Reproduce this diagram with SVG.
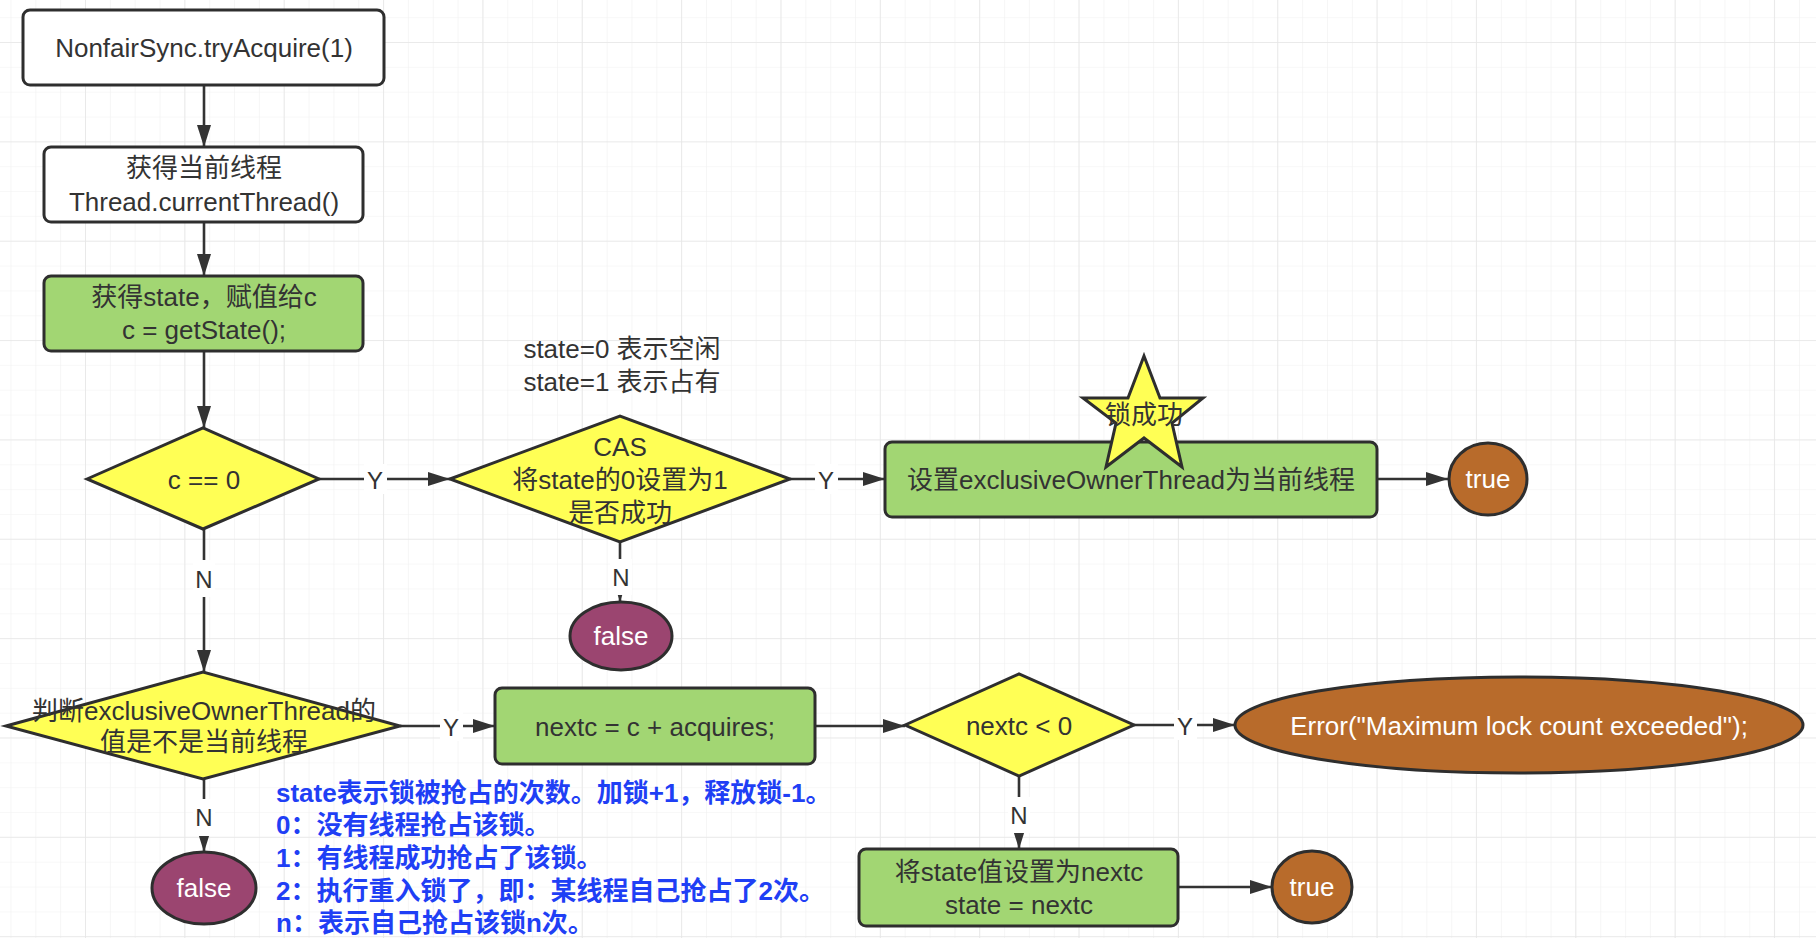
<svg xmlns="http://www.w3.org/2000/svg" width="1816" height="938" viewBox="0 0 1816 938">
<defs>
<pattern id="gMinor" width="24.84" height="24.84" patternUnits="userSpaceOnUse" x="85" y="42">
<path d="M0 0 L24.84 0 M0 0 L0 24.84" stroke="#f1f1f1" stroke-width="1.2" fill="none"/>
</pattern>
<pattern id="gMajor" width="99.35" height="99.35" patternUnits="userSpaceOnUse" x="85" y="42">
<path d="M0 0 L99.35 0 M0 0 L0 99.35" stroke="#e6e6e6" stroke-width="1.6" fill="none"/>
</pattern>
<marker id="arr" markerUnits="userSpaceOnUse" markerWidth="22" markerHeight="14" refX="22" refY="7" orient="auto">
<path d="M0 0 L22 7 L0 14 Z" fill="#333"/>
</marker>
<style>
.t{font-family:"Liberation Sans","Noto Sans CJK SC",sans-serif;font-size:26px;fill:#333;text-anchor:middle;dominant-baseline:central}
.w{fill:#fff}
.lbl{font-family:"Liberation Sans","Noto Sans CJK SC",sans-serif;font-size:24px;fill:#333;text-anchor:middle;dominant-baseline:central}
.note{font-family:"Liberation Sans","Noto Sans CJK SC",sans-serif;font-size:26px;font-weight:bold;fill:#1f3ff5;dominant-baseline:central}
.box{stroke:#2e2e2e;stroke-width:3}
.white{fill:#fff}
.green{fill:#a2d673}
.yellow{fill:#ffff55}
.purple{fill:#9b4570}
.brown{fill:#b86b2b}
.conn{stroke:#333;stroke-width:2.6;fill:none;marker-end:url(#arr)}
.lblbg{fill:#fff}
</style>
</defs>
<rect width="1816" height="938" fill="#fff"/>
<rect width="1816" height="938" fill="url(#gMinor)"/>
<rect width="1816" height="938" fill="url(#gMajor)"/>

<g id="connectors">
<path class="conn" d="M204 85 L204 147"/>
<path class="conn" d="M204 222 L204 276"/>
<path class="conn" d="M204 351 L204 428"/>
<path class="conn" d="M319 479 L450 479"/>
<path class="conn" d="M790 479 L885 479"/>
<path class="conn" d="M1377 479 L1448 479"/>
<path class="conn" d="M620 542 L620 602"/>
<path class="conn" d="M204 529 L204 672"/>
<path class="conn" d="M400 726 L495 726"/>
<path class="conn" d="M815 726 L905 726"/>
<path class="conn" d="M1134 725 L1235 725"/>
<path class="conn" d="M1019 776 L1019 849"/>
<path class="conn" d="M1178 887 L1272 887"/>
<path class="conn" d="M204 779 L204 852"/>
<rect class="lblbg" x="364" y="464" width="23" height="30"/>
<text class="lbl" x="375" y="480">Y</text>
<rect class="lblbg" x="815" y="464" width="23" height="30"/>
<text class="lbl" x="826" y="480">Y</text>
<rect class="lblbg" x="440" y="711" width="23" height="30"/>
<text class="lbl" x="451" y="727">Y</text>
<rect class="lblbg" x="1174" y="710" width="23" height="30"/>
<text class="lbl" x="1185" y="726">Y</text>
<rect class="lblbg" x="193" y="560" width="22" height="37"/>
<text class="lbl" x="204" y="579">N</text>
<rect class="lblbg" x="610" y="559" width="22" height="36"/>
<text class="lbl" x="621" y="577">N</text>
<rect class="lblbg" x="193" y="799" width="22" height="37"/>
<text class="lbl" x="204" y="817">N</text>
<rect class="lblbg" x="1008" y="797" width="22" height="36"/>
<text class="lbl" x="1019" y="815">N</text>
</g>

<g id="n-start">
<rect class="box white" x="23" y="10" width="361" height="75" rx="7"/>
<text class="t" x="204" y="48">NonfairSync.tryAcquire(1)</text>
</g>
<g id="n-thread">
<rect class="box white" x="44" y="147" width="319" height="75" rx="7"/>
<text class="t" x="204" y="168">获得当前线程</text>
<text class="t" x="204" y="202">Thread.currentThread()</text>
</g>
<g id="n-state">
<rect class="box green" x="44" y="276" width="319" height="75" rx="7"/>
<text class="t" x="204" y="297">获得state，赋值给c</text>
<text class="t" x="204" y="330">c = getState();</text>
</g>
<g id="n-c0">
<polygon class="box yellow" points="87,479 203,428 319,479 203,529"/>
<text class="t" x="204" y="480">c == 0</text>
</g>
<g id="n-note-state">
<text class="t" x="622" y="349">state=0 表示空闲</text>
<text class="t" x="622" y="382">state=1 表示占有</text>
</g>
<g id="n-cas">
<polygon class="box yellow" points="450,479 620,416 790,479 620,542"/>
<text class="t" x="620" y="447">CAS</text>
<text class="t" x="620" y="480">将state的0设置为1</text>
<text class="t" x="620" y="513">是否成功</text>
</g>
<g id="n-setowner">
<rect class="box green" x="885" y="442" width="492" height="75" rx="7"/>
<text class="t" x="1131" y="480">设置exclusiveOwnerThread为当前线程</text>
</g>
<g id="n-star">
<polygon class="box yellow" points="1144,356 1160,398 1203,398 1172,423 1182,467 1144,438 1106,467 1116,423 1083,398 1128,398"/>
<text class="t" x="1144" y="415">锁成功</text>
</g>
<g id="n-true1">
<ellipse class="box brown" cx="1488" cy="479" rx="39" ry="36"/>
<text class="t w" x="1488" y="479">true</text>
</g>
<g id="n-false1">
<ellipse class="box purple" cx="621" cy="636" rx="51" ry="34"/>
<text class="t w" x="621" y="636">false</text>
</g>
<g id="n-owner">
<polygon class="box yellow" points="6,726 203,672 400,726 203,779"/>
<text class="t" x="204" y="711">判断exclusiveOwnerThread的</text>
<text class="t" x="204" y="742">值是不是当前线程</text>
</g>
<g id="n-nextc">
<rect class="box green" x="495" y="688" width="320" height="76" rx="7"/>
<text class="t" x="655" y="727">nextc = c + acquires;</text>
</g>
<g id="n-lt0">
<polygon class="box yellow" points="905,725 1019,674 1134,725 1019,776"/>
<text class="t" x="1019" y="726">nextc &lt; 0</text>
</g>
<g id="n-error">
<ellipse class="box brown" cx="1519" cy="725" rx="284" ry="48"/>
<text class="t w" x="1519" y="726">Error("Maximum lock count exceeded");</text>
</g>
<g id="n-setstate">
<rect class="box green" x="859" y="849" width="319" height="77" rx="7"/>
<text class="t" x="1019" y="872">将state值设置为nextc</text>
<text class="t" x="1019" y="905">state = nextc</text>
</g>
<g id="n-true2">
<ellipse class="box brown" cx="1312" cy="887" rx="40" ry="36"/>
<text class="t w" x="1312" y="887">true</text>
</g>
<g id="n-false2">
<ellipse class="box purple" cx="204" cy="888" rx="52" ry="36"/>
<text class="t w" x="204" y="888">false</text>
</g>
<g id="n-note-count">
<text class="note" x="276" y="793">state表示锁被抢占的次数。加锁+1，释放锁-1。</text>
<text class="note" x="276" y="825">0：没有线程抢占该锁。</text>
<text class="note" x="276" y="858">1：有线程成功抢占了该锁。</text>
<text class="note" x="276" y="891">2：执行重入锁了，即：某线程自己抢占了2次。</text>
<text class="note" x="276" y="923">n：表示自己抢占该锁n次。</text>
</g>
</svg>
